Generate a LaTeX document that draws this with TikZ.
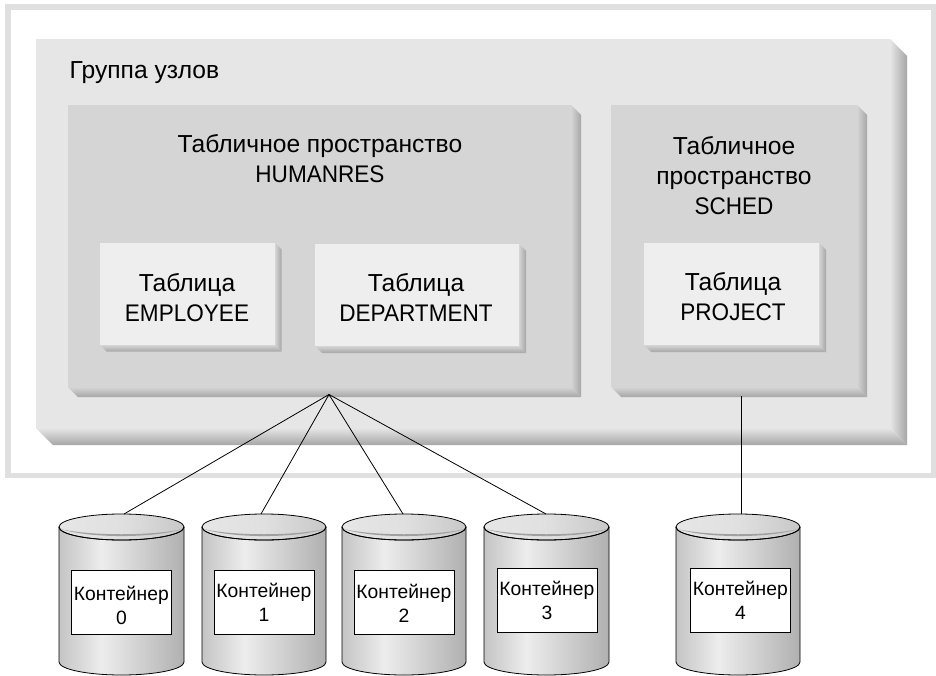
\documentclass[tikz,border=0pt]{standalone}
\usepackage{fontspec}
\setmainfont{Liberation Sans}
\newfontfamily\latnarrow[FakeStretch=0.94]{Liberation Sans}
\newcommand{\lat}[1]{{\latnarrow\fontsize{24}{30}\selectfont #1}}
\definecolor{grpfill}{HTML}{E6E6E6}
\definecolor{tsfill}{HTML}{D5D5D5}
\definecolor{tabfill}{HTML}{EEEEEE}
\definecolor{framecol}{HTML}{E0E0E0}
\definecolor{edgedark}{HTML}{A6A6A6}
\definecolor{cyla}{HTML}{C4C4C4}
\definecolor{cylb}{HTML}{EDEDED}
\definecolor{cylc}{HTML}{B0B0B0}
\definecolor{cyld}{HTML}{E6E6E6}
\definecolor{cyle}{HTML}{E0E0E0}
\definecolor{cylf}{HTML}{C8C8C8}
\definecolor{cylhi}{HTML}{A0A0A0}
\pgfdeclarehorizontalshading{cylbody}{100bp}{color(0bp)=(cyla);color(25bp)=(cyla);color(42bp)=(cylb);color(75bp)=(cylc);color(100bp)=(cylc)}
\pgfdeclarehorizontalshading{cyltop}{100bp}{color(0bp)=(cyld);color(25bp)=(cyld);color(50bp)=(cyle);color(75bp)=(cylf);color(100bp)=(cylf)}
\newcommand{\bevelbox}[9]{%
 % #1 name #2 x0 #3 y0 #4 x1 inner #5 y1 inner #6 dx #7 face #8 inner shade #9 outer shade
 \pgfmathsetmacro{\xo}{#4+#6}\pgfmathsetmacro{\yo}{#5+#6}%
 \pgfmathsetmacro{\xa}{#2+#6}\pgfmathsetmacro{\ya}{#3+#6}%
 \shade[left color=#8,right color=#9] (#4,#3) -- (\xo,\ya) -- (\xo,\yo) -- (#4,#5) -- cycle;
 \shade[top color=#8,bottom color=#9] (#2,#5) -- (\xa,\yo) -- (\xo,\yo) -- (#4,#5) -- cycle;
 \path[fill=#7] (#2,#3) rectangle (#4,#5);
 \coordinate (#1) at (#2,#3);
}
\newcommand{\cyl}[3]{%
 % #1 id, #2 left x, #3 right x
 \pgfmathsetmacro{\cx}{(#2+#3)/2}\pgfmathsetmacro{\rx}{(#3-#2)/2}%
 \path[shading=cylbody,draw=black,line width=0.8pt]
  (#2,527) -- (#2,662) arc[start angle=180,end angle=0,x radius=\rx,y radius=13] -- (#3,527) -- cycle;
 \path[shading=cyltop,draw=black,line width=0.8pt]
  (\cx,527) ellipse[x radius=\rx,y radius=13];
 \fill[cylhi] (#2+1.5,529) .. controls (\cx-\rx*0.5,538.4) and (\cx+\rx*0.5,538.4) .. (#3-1.5,529)
   .. controls (\cx+\rx*0.5,536) and (\cx-\rx*0.5,536) .. cycle;
 \draw[line width=0.8pt] (#2,527) arc[start angle=180,end angle=0,x radius=\rx,y radius=13];
}
\tikzset{
 lab/.style={align=center,font=\fontsize{24.6}{30}\selectfont,text=black,inner sep=0pt},
 clab/.style={align=center,font=\fontsize{19.3}{24}\selectfont,text=black,inner sep=0pt},
 cbox/.style={draw=black,fill=white,line width=0.8pt,inner sep=0pt,minimum width=100pt,minimum height=64pt,anchor=north west},
 link/.style={draw=black,line width=0.8pt}
}
\begin{document}
\begin{tikzpicture}[x=1pt,y=-1pt]
\useasboundingbox (0,0) rectangle (936,676);
\fill[white] (0,0) rectangle (936,676);
% frame
\draw[framecol,line width=5.5pt] (7.75,7.25) -- (934,7.25) -- (934,475.5) -- (7.75,475.5) -- cycle;
% group
\bevelbox{grp}{36}{39}{890}{428}{17}{grpfill}{grpfill}{edgedark}
\node[lab,anchor=base west] (grptext) at (69.5,79) {Группа узлов};
% tablespaces
\bevelbox{ts1}{68}{105}{571}{387}{10}{tsfill}{tsfill}{edgedark}
\bevelbox{ts2}{611}{105}{857}{387}{10}{tsfill}{tsfill}{edgedark}
\node[lab] (ts1text) at (320,159) {Табличное пространство\\\lat{HUMANRES}};
\node[lab] (ts2text) at (734,175.5) {Табличное\\пространство\\\lat{SCHED}};
% tables
\bevelbox{t1}{100}{243}{275}{345}{6.5}{tabfill}{tsfill}{edgedark}
\bevelbox{t2}{315}{244}{519}{346}{7}{tabfill}{tsfill}{edgedark}
\bevelbox{t3}{644}{243}{819}{345}{7}{tabfill}{tsfill}{edgedark}
\node[lab] (t1text) at (187,297.5) {Таблица\\\lat{EMPLOYEE}};
\node[lab] (t2text) at (416,297.5) {Таблица\\\lat{DEPARTMENT}};
\node[lab] (t3text) at (733,296.5) {Таблица\\\lat{PROJECT}};
% cylinders
\cyl{0}{59}{184}
\cyl{1}{202}{326}
\cyl{2}{342}{466}
\cyl{3}{484}{609}
\cyl{4}{676}{800}
\node[cbox] (c0) at (71,570) {};
\node[cbox] (c1) at (213.5,570) {};
\node[cbox] (c2) at (353.5,570) {};
\node[cbox] (c3) at (496.5,568) {};
\node[cbox] (c4) at (690,568) {};
\node[clab,anchor=center] at ([yshift=-3pt]c0.center) {Контейнер\\0};
\node[clab,anchor=center] at ([yshift=0pt]c1.center) {Контейнер\\1};
\node[clab,anchor=center] at ([yshift=-1pt]c2.center) {Контейнер\\2};
\node[clab,anchor=center] at ([yshift=0pt]c3.center) {Контейнер\\3};
\node[clab,anchor=center] at ([yshift=0pt]c4.center) {Контейнер\\4};
% connectors
\coordinate (apex) at (329,394.5);
\coordinate (top0) at (124,514);
\coordinate (top1) at (261,514);
\coordinate (top2) at (403,514);
\coordinate (top3) at (546,514);
\coordinate (ts2b) at (741.5,396);
\coordinate (top4) at (741.5,514);
\draw[link] (apex) -- (top0);
\draw[link] (apex) -- (top1);
\draw[link] (apex) -- (top2);
\draw[link] (apex) -- (top3);
\draw[link] (ts2b) -- (top4);
\end{tikzpicture}
\end{document}
